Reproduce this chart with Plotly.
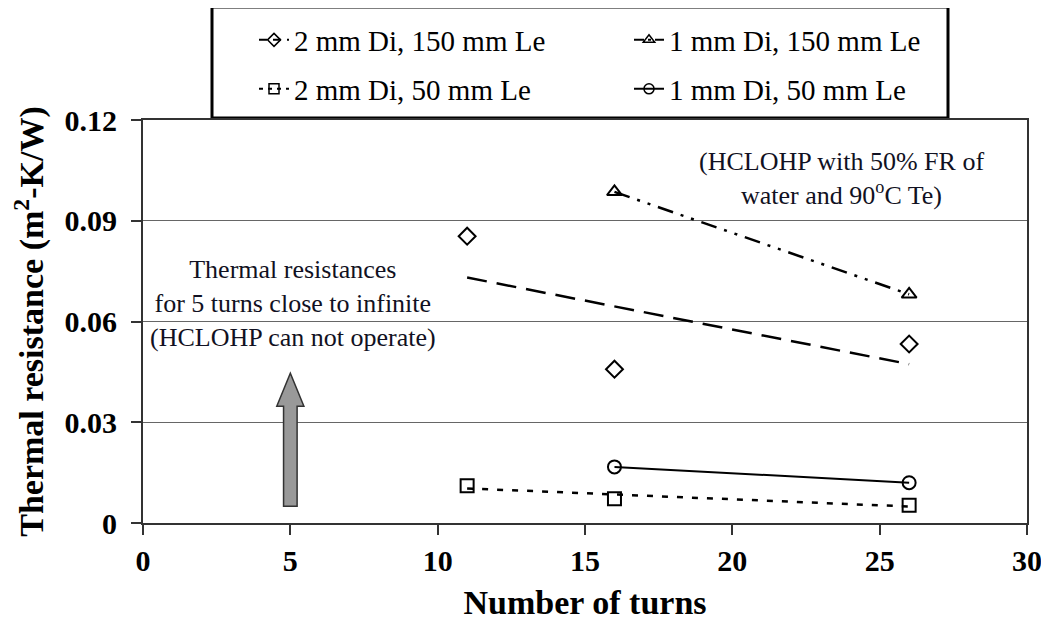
import plotly.graph_objects as go

# ---------------- data ----------------
turns_d2_l150 = [11, 16, 26]
res_d2_l150 = [0.0854, 0.0458, 0.0533]
trend_x_d2_l150 = [11, 26]
trend_y_d2_l150 = [0.0731, 0.0473]

turns_d1_l150 = [16, 26]
res_d1_l150 = [0.0986, 0.0681]

turns_d2_l50 = [11, 16, 26]
res_d2_l50 = [0.0111, 0.0072, 0.0053]
trend_x_d2_l50 = [11, 26]
trend_y_d2_l50 = [0.0103, 0.0049]

turns_d1_l50 = [16, 26]
res_d1_l50 = [0.0167, 0.0120]

x_ticks = [0, 5, 10, 15, 20, 25, 30]
y_ticks = [0, 0.03, 0.06, 0.09, 0.12]
y_tick_labels = ["0", "0.03", "0.06", "0.09", "0.12"]

arrow_x = 5
arrow_y = [0.005, 0.0446]

FONT = "Liberation Serif, Times New Roman, serif"
BLACK = "black"

fig = go.Figure()

# ---------------- data traces ----------------
fig.add_trace(go.Scatter(x=trend_x_d2_l150, y=trend_y_d2_l150, mode="lines",
                         line=dict(color=BLACK, width=2.5, dash="20px,10px"),
                         showlegend=False, hoverinfo="skip"))
fig.add_trace(go.Scatter(x=turns_d2_l150, y=res_d2_l150, mode="markers",
                         marker=dict(symbol="diamond-open", size=13, color=BLACK, line=dict(width=2)),
                         showlegend=False))

fig.add_trace(go.Scatter(x=turns_d1_l150, y=res_d1_l150, mode="lines+markers",
                         line=dict(color=BLACK, width=2.5, dash="16px,8px,3px,8px,3px,8px"),
                         marker=dict(symbol="triangle-up-open", size=13, color=BLACK, line=dict(width=2)),
                         showlegend=False))

fig.add_trace(go.Scatter(x=trend_x_d2_l50, y=trend_y_d2_l50, mode="lines",
                         line=dict(color=BLACK, width=2.5, dash="6px,9px"),
                         showlegend=False, hoverinfo="skip"))
fig.add_trace(go.Scatter(x=turns_d2_l50, y=res_d2_l50, mode="markers",
                         marker=dict(symbol="square-open", size=13, color=BLACK, line=dict(width=2)),
                         showlegend=False))

fig.add_trace(go.Scatter(x=turns_d1_l50, y=res_d1_l50, mode="lines+markers",
                         line=dict(color=BLACK, width=2),
                         marker=dict(symbol="circle-open", size=13, color=BLACK, line=dict(width=2)),
                         showlegend=False))

# ---------------- legend-only traces ----------------
leg = [
    ("2 mm Di, 150 mm Le", "diamond-open", "8px,6px", "legend"),
    ("1 mm Di, 150 mm Le", "triangle-up-open", "10px,4px,3px,4px", "legend"),
    ("2 mm Di, 50 mm Le", "square-open", "4px,5px", "legend2"),
    ("1 mm Di, 50 mm Le", "circle-open", "solid", "legend2"),
]
for name, sym, dash, lg in leg:
    fig.add_trace(go.Scatter(x=[None], y=[None], mode="lines+markers", name=name,
                             line=dict(color=BLACK, width=2, dash=dash),
                             marker=dict(symbol=sym, size=10, color=BLACK, line=dict(width=1.5)),
                             legend=lg))

# ---------------- geometry helpers (page has an 8px body offset) ----------------
OFF = 8
L, R, T, B = 143 - OFF, 1027 - OFF, 120 - OFF, 523 - OFF
W, H = 1049 - OFF, 621 - OFF
def px(xp):
    return (xp - OFF - L) / (R - L)
def py(yp):
    return (B - (yp - OFF)) / (B - T)

legend_common = dict(orientation="h", font=dict(family=FONT, size=29, color=BLACK),
                     bgcolor="rgba(0,0,0,0)", borderwidth=0,
                     entrywidth=330, entrywidthmode="pixels",
                     xref="container", yref="container",
                     xanchor="left", yanchor="middle", itemwidth=30)

# legend box
fig.add_shape(type="rect", xref="paper", yref="paper",
              x0=px(212), x1=px(948), y0=py(118), y1=py(7),
              line=dict(color=BLACK, width=3), fillcolor="white", layer="below")

# block arrow
hw_shaft, hw_head, head_len = 0.23, 0.46, 0.0098
ax0, ay0, ay1 = arrow_x, arrow_y[0], arrow_y[1]
path = (f"M {ax0-hw_shaft},{ay0} L {ax0+hw_shaft},{ay0} L {ax0+hw_shaft},{ay1-head_len} "
        f"L {ax0+hw_head},{ay1-head_len} L {ax0},{ay1} L {ax0-hw_head},{ay1-head_len} "
        f"L {ax0-hw_shaft},{ay1-head_len} Z")
fig.add_shape(type="path", path=path, xref="x", yref="y",
              fillcolor="#999999", line=dict(color="#333333", width=1.5))

fig.add_annotation(x=5.09, y=0.0655, xref="x", yref="y", showarrow=False,
                   text="Thermal resistances<br>for 5 turns close to infinite<br>(HCLOHP can not operate)",
                   font=dict(family=FONT, size=26, color="#111122"), align="center")
fig.add_annotation(x=23.7, y=0.1027, xref="x", yref="y", showarrow=False,
                   text="(HCLOHP with 50% FR of<br>water and 90<sup>o</sup>C Te)",
                   font=dict(family=FONT, size=26, color="#111122"), align="center")

fig.update_layout(
    width=W, height=H,
    margin=dict(l=L, r=W - R, t=T, b=H - B, autoexpand=False),
    paper_bgcolor="white", plot_bgcolor="white",
    font=dict(family=FONT, color=BLACK),
    legend=dict(x=(254 - OFF) / W, y=1 - (40 - OFF) / H, **legend_common),
    legend2=dict(x=(254 - OFF) / W, y=1 - (89 - OFF) / H, **legend_common),
    xaxis=dict(range=[0, 30], tickvals=x_ticks, ticks="outside", ticklen=10, tickwidth=1.5,
               tickcolor="#333", showline=True, linecolor="#333", linewidth=2, mirror=True,
               showgrid=False, zeroline=False, automargin=True,
               tickfont=dict(family=FONT, size=30, color=BLACK, weight="bold"),
               title=dict(text="<b>Number of turns</b>", font=dict(family=FONT, size=34, color=BLACK),
                          standoff=18)),
    yaxis=dict(range=[0, 0.12], tickvals=y_ticks, ticktext=[f"<b>{t}</b>" for t in y_tick_labels],
               ticks="outside", ticklen=10, tickwidth=1.5, tickcolor="#333",
               showline=True, linecolor="#333", linewidth=2, mirror=True, ticklabelstandoff=8,
               showgrid=True, gridcolor="#666", gridwidth=1, zeroline=False, automargin=True,
               tickfont=dict(family=FONT, size=30, color=BLACK),
               title=dict(text="<b>Thermal resistance (m<sup>2</sup>-K/W)</b>",
                          font=dict(family=FONT, size=34, color=BLACK), standoff=18)),
)

fig.write_html("out.html")
